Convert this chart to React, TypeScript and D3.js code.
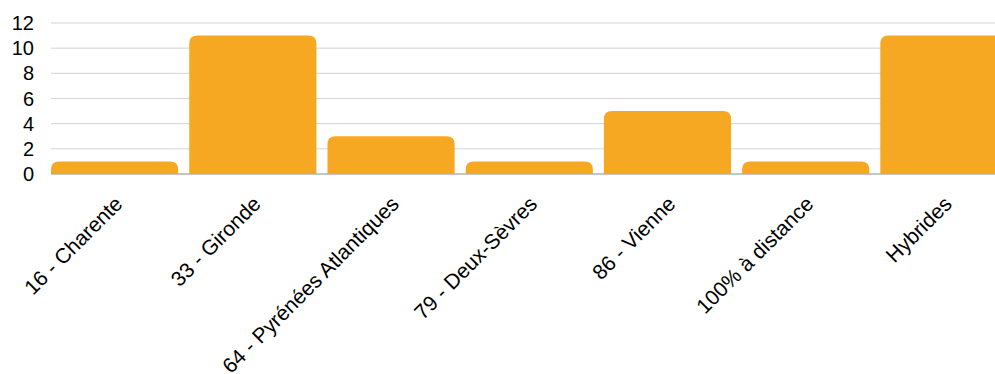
import React from "react";
import * as d3 from "d3";

const categories = [
  "16 - Charente",
  "33 - Gironde",
  "64 - Pyrénées Atlantiques",
  "79 - Deux-Sèvres",
  "86 - Vienne",
  "100% à distance",
  "Hybrides",
];
const values = [1, 11, 3, 1, 5, 1, 11];
const yTicks = [0, 2, 4, 6, 8, 10, 12];

const W = 995;
const H = 374;
const color = "#F7A823";

function roundedTop(x: number, y: number, w: number, h: number, r: number) {
  const rr = Math.min(r, h, w / 2);
  return `M${x},${y + h}V${y + rr}Q${x},${y} ${x + rr},${y}H${x + w - rr}Q${x + w},${y} ${x + w},${y + rr}V${y + h}Z`;
}

export default function App() {
  const x = d3
    .scaleBand<string>()
    .domain(categories)
    .range([45.5, 1013])
    .paddingInner(0.08)
    .paddingOuter(0.04);
  const y = d3.scaleLinear().domain([0, 12]).range([174, 23]);
  const font = "'Liberation Sans', Arial, sans-serif";
  return (
    <svg
      width={W}
      height={H}
      style={{ position: "absolute", left: 0, top: 0 }}
      fontFamily={font}
    >
      {yTicks.map((t) => (
        <g key={t}>
          {t !== 0 && (
            <line x1={51} x2={W} y1={y(t)} y2={y(t)} stroke="#d4d4d4" strokeWidth={1} />
          )}
          <text x={34} y={y(t)} dy="0.35em" textAnchor="end" fontSize={20} fill="#000">
            {t}
          </text>
        </g>
      ))}
      <line x1={51} x2={W} y1={y(0)} y2={y(0)} stroke="#8c8c8c" strokeWidth={1} />
      {categories.map((c, i) => (
        <path
          key={c}
          d={roundedTop(x(c)!, y(values[i]), x.bandwidth(), y(0) - y(values[i]), 8)}
          fill={color}
        />
      ))}
      {categories.map((c) => {
        const cx = x(c)! + x.bandwidth() / 2;
        return (
          <text
            key={c}
            transform={`translate(${cx + 4},${200}) rotate(-45)`}
            textAnchor="end"
            dy="0.35em"
            fontSize={21}
            fill="#000"
          >
            {c}
          </text>
        );
      })}
    </svg>
  );
}
